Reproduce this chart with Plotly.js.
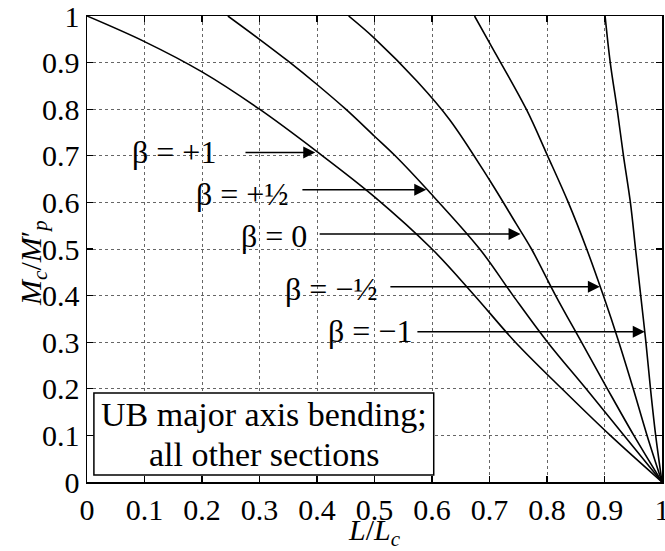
<!DOCTYPE html>
<html>
<head>
<meta charset="utf-8">
<script src="https://cdn.plot.ly/plotly-3.0.1.min.js"></script>
<style>html,body{margin:0;padding:0;background:#fff;}#chart{width:665px;height:551px;}</style>
</head>
<body>
<div id="chart"></div>
<script>
// Curves: L/Lc (x) and Mc/M'p (y)
const xBetaP1 = [0, 0.1, 0.2, 0.3, 0.4, 0.5, 0.6, 0.672, 0.745, 0.826, 0.91, 1];
const yBetaP1 = [1, 0.945, 0.88, 0.8, 0.709, 0.612, 0.5, 0.403, 0.3, 0.2, 0.1, 0];

const xBetaPHalf = [0.245, 0.3, 0.35, 0.4, 0.45, 0.5, 0.536, 0.592, 0.683, 0.741, 0.801, 0.868, 0.934, 1];
const yBetaPHalf = [1, 0.95, 0.903, 0.853, 0.8, 0.742, 0.7, 0.627, 0.5, 0.4, 0.3, 0.2, 0.1, 0];

const xBeta0 = [0.455, 0.5, 0.574, 0.631, 0.7, 0.746, 0.773, 0.815, 0.86, 0.905, 0.951, 1];
const yBeta0 = [1, 0.952, 0.86, 0.777, 0.648, 0.555, 0.5, 0.4, 0.3, 0.2, 0.1, 0];

const xBetaMHalf = [0.674, 0.702, 0.764, 0.801, 0.837, 0.869, 0.898, 0.925, 0.95, 0.974, 1];
const yBetaMHalf = [1, 0.938, 0.8, 0.7, 0.6, 0.5, 0.4, 0.3, 0.2, 0.1, 0];

const xBetaM1 = [0.901, 0.91, 0.922, 0.933, 0.945, 0.954, 0.963, 0.972, 0.98, 0.989, 1];
const yBetaM1 = [1, 0.9, 0.8, 0.7, 0.6, 0.5, 0.4, 0.3, 0.2, 0.1, 0];

const betaLabels = ['β = +1', 'β = +½', 'β = 0', 'β = −½', 'β = −1'];
const boxLines = ['UB major axis bending;', 'all other sections'];
const yTitle = '<i>M</i><sub><i>c</i></sub>/<i>M</i>′<sub><i>p</i></sub>';
const xTitle = '<i>L</i>/<i>L</i><sub><i>c</i></sub>';

const FONT = 'Liberation Serif';
const series = [[xBetaP1, yBetaP1], [xBetaPHalf, yBetaPHalf], [xBeta0, yBeta0], [xBetaMHalf, yBetaMHalf], [xBetaM1, yBetaM1]];

const traces = series.map((s, i) => ({
  x: s[0], y: s[1], type: 'scatter', mode: 'lines', name: betaLabels[i],
  line: {color: '#000', width: 1.6, shape: 'spline', smoothing: 1},
  cliponaxis: false, showlegend: false, hoverinfo: 'skip'
}));

// label placement (layout only)
const labelPos = [[0.152, 0.708], [0.27, 0.618], [0.325, 0.527], [0.425, 0.414], [0.493, 0.324]];
const arrowPos = [[0.273, 0.397, 0.707], [0.372, 0.59, 0.627], [0.402, 0.754, 0.532], [0.525, 0.892, 0.419], [0.572, 0.97, 0.3225]];

const annotations = [];
betaLabels.forEach((t, i) => {
  annotations.push({x: labelPos[i][0], y: labelPos[i][1], xref: 'x', yref: 'y', text: t, showarrow: false,
    font: {family: FONT, size: 32, color: '#000'}, xanchor: 'center', yanchor: 'middle'});
  annotations.push({x: arrowPos[i][1], y: arrowPos[i][2], ax: arrowPos[i][0], ay: arrowPos[i][2],
    xref: 'x', yref: 'y', axref: 'x', ayref: 'y', text: '', showarrow: true,
    arrowhead: 2, arrowsize: 1.6, arrowwidth: 1.5, arrowcolor: '#000', standoff: 0});
});
annotations.push({x: 0.308, y: 0.145, xref: 'x', yref: 'y', text: boxLines[0], showarrow: false,
  font: {family: FONT, size: 34, color: '#000'}, xanchor: 'center', yanchor: 'middle'});
annotations.push({x: 0.308, y: 0.06, xref: 'x', yref: 'y', text: boxLines[1], showarrow: false,
  font: {family: FONT, size: 34, color: '#000'}, xanchor: 'center', yanchor: 'middle'});
// y-axis title placed as a rotated annotation to match the reference position
annotations.push({x: -0.094, y: 0.47, xref: 'paper', yref: 'paper', text: yTitle, showarrow: false,
  textangle: -90, font: {family: FONT, size: 30, color: '#000'}, xanchor: 'center', yanchor: 'middle'});

const shapes = [{type: 'rect', xref: 'x', yref: 'y', x0: 0.012, x1: 0.603, y0: 0.015, y1: 0.191,
  fillcolor: '#fff', line: {color: '#000', width: 1.5}, layer: 'above'}];

const tickFont = {family: FONT, size: 30, color: '#000'};
const axisCommon = {
  range: [0, 1], dtick: 0.1, tick0: 0,
  showgrid: true, gridcolor: '#666', griddash: 'dot', gridwidth: 1,
  showline: true, linecolor: '#000', linewidth: 1.5, mirror: 'ticks',
  ticks: 'inside', ticklen: 6, tickcolor: '#000', tickwidth: 1.2,
  zeroline: false, tickfont: tickFont, ticklabeloverflow: 'allow'
};

const layout = {
  width: 665, height: 551,
  margin: {l: 87, r: 3, t: 16, b: 69},
  paper_bgcolor: '#fff', plot_bgcolor: '#fff',
  font: {family: FONT, color: '#000'},
  xaxis: Object.assign({}, axisCommon, {
    title: {text: xTitle, font: {family: FONT, size: 30, color: '#000'}}
  }),
  yaxis: Object.assign({}, axisCommon, {
    title: {text: ''}
  }),
  annotations: annotations,
  shapes: shapes,
  showlegend: false
};

Plotly.newPlot('chart', traces, layout, {displayModeBar: false, staticPlot: true});
</script>
</body>
</html>
